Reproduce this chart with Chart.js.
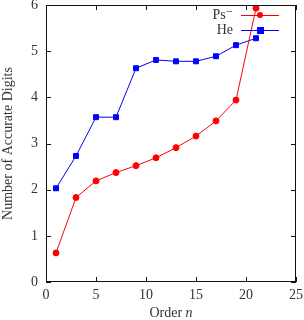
<!DOCTYPE html>
<html>
<head>
<meta charset="utf-8">
<script src="https://cdn.jsdelivr.net/npm/chart.js@4"></script>
<style>
	html, body { margin: 0; padding: 0; background: #fff; }
	#wrap { width: 304px; height: 320px; }
</style>
</head>
<body>
<div id="wrap"><canvas id="chart"></canvas></div>
<script>
const orders = [1, 3, 5, 7, 9, 11, 13, 15, 17, 19, 21];
const psDigits = [0.63, 1.83, 2.19, 2.37, 2.52, 2.69, 2.91, 3.16, 3.49, 3.94, 5.93];
const heDigits = [2.03, 2.73, 3.57, 3.57, 4.63, 4.81, 4.78, 4.78, 4.89, 5.13, 5.28];
const xTicks = [0, 5, 10, 15, 20, 25];
const yTicks = [0, 1, 2, 3, 4, 5, 6];

const serif = '"Liberation Serif", "DejaVu Serif", serif';
const textColor = '#333';

function points(ys) {
	return orders.map((x, i) => ({ x, y: ys[i] }));
}

// box, inward ticks on all four sides, legend inside top right, x title
const framePlugin = {
	id: 'frame',
	afterDraw(chart) {
		const { ctx, chartArea: a, scales } = chart;
		ctx.save();
		ctx.strokeStyle = '#111';
		ctx.lineWidth = 1;
		ctx.strokeRect(a.left + 0.5, a.top + 0.5, a.right - a.left - 1, a.bottom - a.top - 1);

		const len = 5;
		ctx.beginPath();
		xTicks.forEach((v) => {
			const px = Math.round(scales.x.getPixelForValue(v)) + 0.5;
			ctx.moveTo(px, a.bottom);
			ctx.lineTo(px, a.bottom - len);
			ctx.moveTo(px, a.top);
			ctx.lineTo(px, a.top + len);
		});
		yTicks.forEach((v) => {
			const py = Math.round(scales.y.getPixelForValue(v)) + 0.5;
			ctx.moveTo(a.left, py);
			ctx.lineTo(a.left + len, py);
			ctx.moveTo(a.right, py);
			ctx.lineTo(a.right - len, py);
		});
		ctx.stroke();

		// legend
		chart.data.datasets.forEach((ds, i) => {
			const y = a.top + 10 + i * 15;
			const lineL = a.right - 55;
			const lineR = a.right - 17;
			ctx.fillStyle = textColor;
			ctx.font = '14px ' + serif;
			ctx.textAlign = 'right';
			ctx.textBaseline = 'middle';
			ctx.fillText(ds.label, lineL - 8, y);
			ctx.strokeStyle = ds.borderColor;
			ctx.beginPath();
			ctx.moveTo(lineL, y + 0.5);
			ctx.lineTo(lineR, y + 0.5);
			ctx.stroke();
			ctx.fillStyle = ds.borderColor;
			const mx = (lineL + lineR) / 2;
			if (ds.pointStyle === 'rect') {
				ctx.fillRect(mx - 3, y - 3, 7, 7);
			} else {
				ctx.beginPath();
				ctx.arc(mx, y, 3, 0, Math.PI * 2);
				ctx.fill();
			}
		});

		// x title with italic n
		ctx.fillStyle = textColor;
		ctx.textBaseline = 'alphabetic';
		ctx.textAlign = 'left';
		const word = 'Order ';
		ctx.font = 'italic 14px ' + serif;
		const nW = ctx.measureText('n').width;
		ctx.font = '14px ' + serif;
		const wW = ctx.measureText(word).width;
		const cx = (a.left + a.right) / 2;
		const start = cx - (wW + nW) / 2;
		ctx.fillText(word, start, 317);
		ctx.font = 'italic 14px ' + serif;
		ctx.fillText('n', start + wW, 317);
		ctx.restore();
	},
};

new Chart(document.getElementById('chart'), {
	type: 'line',
	data: {
		datasets: [
			{
				label: 'Ps\u207B',
				data: points(psDigits),
				borderColor: '#ff0000',
				backgroundColor: '#ff0000',
				borderWidth: 1,
				pointStyle: 'circle',
				pointRadius: 3,
				tension: 0,
			},
			{
				label: 'He',
				data: points(heDigits),
				borderColor: '#0000ff',
				backgroundColor: '#0000ff',
				borderWidth: 1,
				pointStyle: 'rect',
				pointRadius: 3.5,
				tension: 0,
			},
		],
	},
	options: {
		responsive: true,
		maintainAspectRatio: false,
		animation: false,
		layout: { padding: { top: 5, right: 8, left: 0, bottom: 0 } },
		plugins: {
			legend: { display: false },
			tooltip: { enabled: false },
		},
		scales: {
			x: {
				type: 'linear',
				min: 0,
				max: 25,
				afterBuildTicks(scale) {
					scale.ticks = xTicks.map((v) => ({ value: v }));
				},
				afterFit(scale) {
					scale.height = 38;
					scale.paddingRight = 0;
					scale.paddingLeft = 0;
				},
				grid: { display: false, drawTicks: false },
				border: { display: false },
				ticks: {
					color: textColor,
					font: { family: serif, size: 14 },
					padding: 5,
					maxRotation: 0,
				},
			},
			y: {
				type: 'linear',
				min: 0,
				max: 6,
				afterBuildTicks(scale) {
					scale.ticks = yTicks.map((v) => ({ value: v }));
				},
				afterFit(scale) {
					scale.width = 46;
					scale.paddingTop = 0;
					scale.paddingBottom = 0;
				},
				grid: { display: false, drawTicks: false },
				border: { display: false },
				title: {
					display: true,
					text: 'Number of Accurate Digits',
					color: textColor,
					font: { family: serif, size: 14 },
					padding: { top: 0, bottom: 0 },
				},
				ticks: {
					color: textColor,
					font: { family: serif, size: 14 },
					padding: 8,
				},
			},
		},
	},
	plugins: [framePlugin],
});
</script>
</body>
</html>
